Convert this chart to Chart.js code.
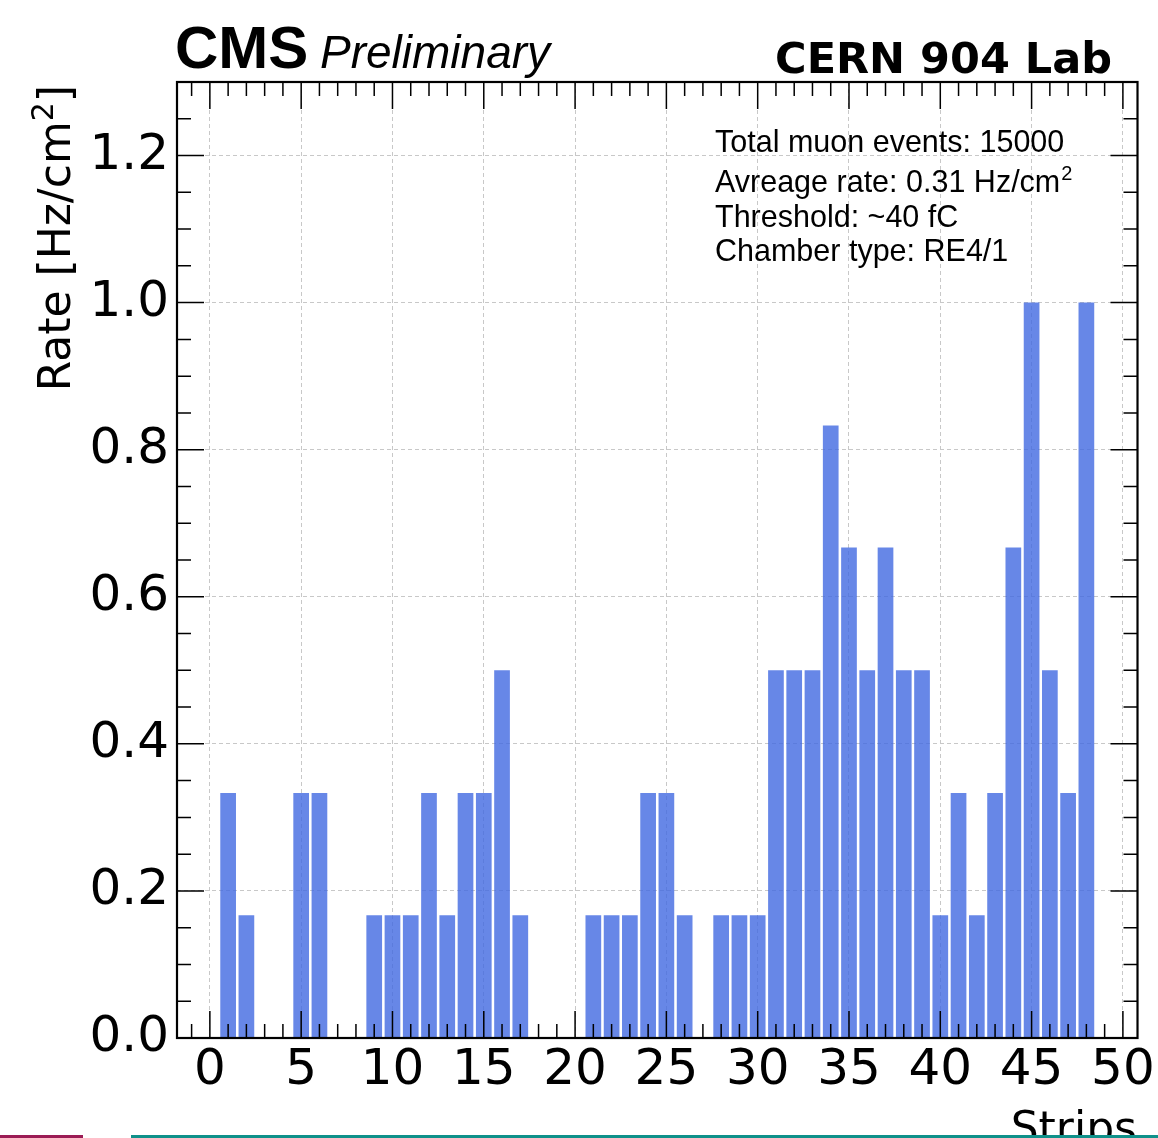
<!DOCTYPE html>
<html>
<head>
<meta charset="utf-8">
<title>Strip rate - RE4/1</title>
<script src="https://cdn.jsdelivr.net/npm/chart.js@4.4.0/dist/chart.umd.min.js"></script>
<style>
  html, body { margin: 0; padding: 0; background: #fff; }
  #wrap { position: relative; width: 1158px; height: 1138px; overflow: hidden; }
  #rateChart { display: block; }
  .stripe { position: absolute; top: 1135px; height: 3px; }
  #stripeLeft { left: 0; width: 83px; background: #9b1b55; }
  #stripeRight { left: 131px; width: 1027px; background: #0f918a; }
</style>
</head>
<body>
<div id="wrap">
  <canvas id="rateChart" width="1158" height="1138"></canvas>
  <div class="stripe" id="stripeLeft"></div>
  <div class="stripe" id="stripeRight"></div>
</div>
<script>
// Strip numbers and measured rate per strip [Hz/cm2]
const strips = [1, 2, 3, 4, 5, 6, 7, 8, 9, 10, 11, 12, 13, 14, 15, 16,
  17, 18, 19, 20, 21, 22, 23, 24, 25, 26, 27, 28, 29, 30, 31, 32,
  33, 34, 35, 36, 37, 38, 39, 40, 41, 42, 43, 44, 45, 46, 47, 48];
const rate = [0.333, 0.167, 0, 0, 0.333, 0.333, 0, 0, 0.167, 0.167, 0.167, 0.333, 0.167, 0.333, 0.333, 0.5,
  0.167, 0, 0, 0, 0.167, 0.167, 0.167, 0.333, 0.333, 0.167, 0, 0.167, 0.167, 0.167, 0.5, 0.5,
  0.5, 0.833, 0.667, 0.5, 0.667, 0.5, 0.5, 0.167, 0.333, 0.167, 0.333, 0.667, 1.0, 0.5, 0.333, 1.0];

// axis ticks
const xTicks = [0, 5, 10, 15, 20, 25, 30, 35, 40, 45, 50];
const yTicks = [0, 0.2, 0.4, 0.6, 0.8, 1.0, 1.2];

// info box text
const infoLines = [
  'Total muon events: 15000',
  'Avreage rate: 0.31 Hz/cm',
  'Threshold: ~40 fC',
  'Chamber type: RE4/1'
];

const tickFont = 'DejaVu Sans';
const boxFont = 'Liberation Sans';

// frame, inward ticks on all sides, and the labels around the plot
const cmsDecor = {
  id: 'cmsDecor',
  afterDraw(chart) {
    const { ctx, chartArea: a, scales: { x, y } } = chart;
    ctx.save();

    ctx.strokeStyle = '#000';
    ctx.lineWidth = 1.5;
    ctx.beginPath();
    for (let v = -1; v <= 50; v++) {
      const px = x.getPixelForValue(v);
      const len = v % 5 === 0 ? 27 : 14;
      ctx.moveTo(px, a.bottom); ctx.lineTo(px, a.bottom - len);
      ctx.moveTo(px, a.top); ctx.lineTo(px, a.top + len);
    }
    for (let i = 0; i <= 26; i++) {
      const py = y.getPixelForValue(i * 0.05);
      const len = i % 4 === 0 ? 27 : 14;
      ctx.moveTo(a.left, py); ctx.lineTo(a.left + len, py);
      ctx.moveTo(a.right, py); ctx.lineTo(a.right - len, py);
    }
    ctx.stroke();

    ctx.lineWidth = 2.2;
    ctx.strokeRect(a.left, a.top, a.right - a.left, a.bottom - a.top);

    ctx.fillStyle = '#000';
    ctx.textBaseline = 'alphabetic';

    // top left label
    ctx.textAlign = 'left';
    ctx.font = 'bold 60px "Liberation Sans"';
    ctx.fillText('CMS', 175, 68);
    ctx.font = 'italic 46px "Liberation Sans"';
    ctx.fillText('Preliminary', 320, 68);

    // top right label
    ctx.textAlign = 'right';
    ctx.font = 'bold 43px "DejaVu Sans"';
    ctx.fillText('CERN 904 Lab', 1112, 73);

    // info box
    ctx.textAlign = 'left';
    const baselines = [152, 192, 227, 261];
    infoLines.forEach((t, i) => {
      ctx.font = `30.5px "${boxFont}"`;
      ctx.fillText(t, 715, baselines[i]);
      if (i === 1) {
        const w = ctx.measureText(t).width;
        ctx.font = `20px "${boxFont}"`;
        ctx.fillText('2', 715 + w + 1, baselines[i] - 12);
      }
    });

    // x axis title, clipped by the bottom of the page
    ctx.textAlign = 'right';
    ctx.font = `44px "${tickFont}"`;
    ctx.fillText('Strips', 1137, 1143);

    // y axis title, aligned to the top
    ctx.translate(70, 85);
    ctx.rotate(-Math.PI / 2);
    ctx.textAlign = 'right';
    ctx.font = `44px "${tickFont}"`;
    const wClose = ctx.measureText(']').width;
    ctx.fillText(']', 0, 0);
    ctx.font = `30px "${tickFont}"`;
    const wSup = ctx.measureText('2').width;
    ctx.fillText('2', -wClose, -17);
    ctx.font = `44px "${tickFont}"`;
    ctx.fillText('Rate [Hz/cm', -wClose - wSup, 0);

    ctx.restore();
  }
};

const gridStyle = { color: '#c8c8c8', lineWidth: 1, drawTicks: false, offset: false };
const borderStyle = { display: false, dash: [4, 3] };

new Chart(document.getElementById('rateChart'), {
  type: 'bar',
  data: {
    datasets: [{
      data: strips.map((s, i) => ({ x: s, y: rate[i] })),
      backgroundColor: 'rgba(65, 105, 225, 0.8)',
      borderWidth: 0,
      barPercentage: 0.86,
      categoryPercentage: 1
    }]
  },
  options: {
    responsive: false,
    animation: false,
    devicePixelRatio: 1,
    layout: { padding: { top: 82, right: 19, left: 0, bottom: 0 } },
    plugins: {
      legend: { display: false },
      tooltip: { enabled: false }
    },
    scales: {
      x: {
        type: 'linear',
        min: -1.8,
        max: 50.8,
        offset: false,
        afterBuildTicks: s => { s.ticks = xTicks.map(v => ({ value: v })); },
        afterFit: s => { s.height = 100; },
        grid: gridStyle,
        border: borderStyle,
        ticks: {
          callback: v => String(v),
          color: '#000',
          font: { family: tickFont, size: 50 },
          padding: 3,
          maxRotation: 0,
          autoSkip: false
        }
      },
      y: {
        min: 0,
        max: 1.3,
        afterBuildTicks: s => { s.ticks = yTicks.map(v => ({ value: v })); },
        afterFit: s => { s.width = 177; },
        grid: gridStyle,
        border: borderStyle,
        ticks: {
          callback: v => v.toFixed(1),
          color: '#000',
          font: { family: tickFont, size: 50 },
          padding: 8
        }
      }
    }
  },
  plugins: [cmsDecor]
});
</script>
</body>
</html>
